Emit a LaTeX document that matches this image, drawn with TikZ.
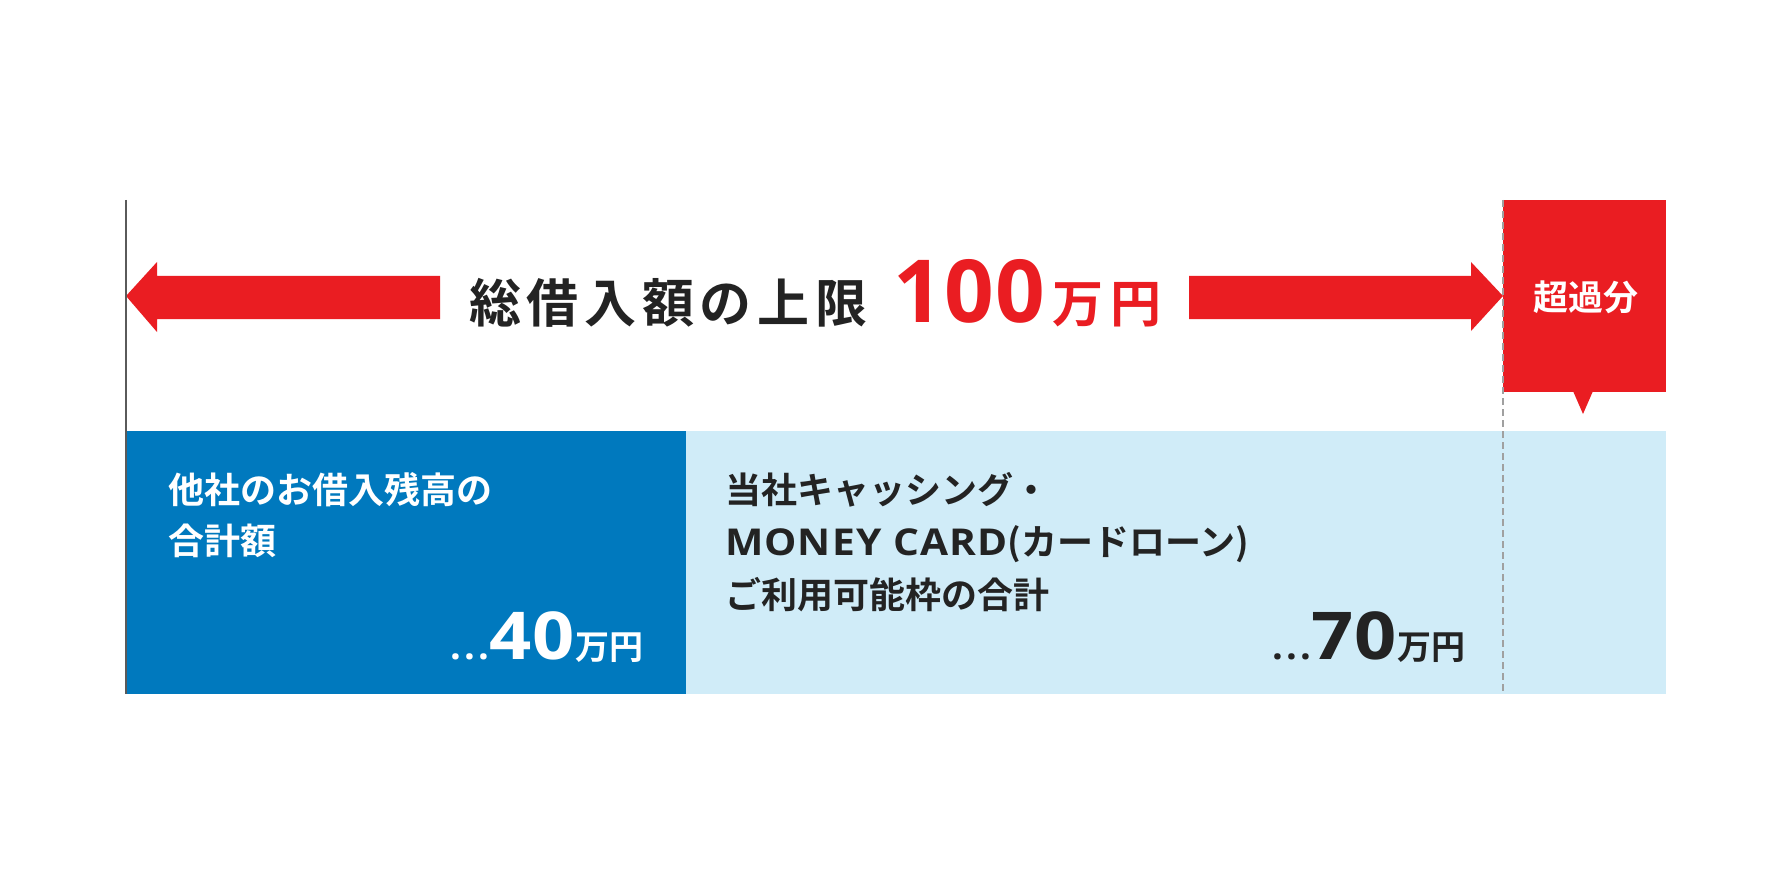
\documentclass[tikz,border=0pt]{standalone}
\usepackage{fontspec}
\setmainfont{Noto Sans CJK JP Bold}
\newfontfamily\latfam{Open Sans}
\newcommand{\lat}{\latfam\bfseries}
\definecolor{ared}{RGB}{234,29,34}
\definecolor{dblue}{RGB}{0,121,190}
\definecolor{lblue}{RGB}{208,236,248}
\definecolor{ink}{RGB}{35,35,35}
\definecolor{lgray}{RGB}{90,90,90}
\definecolor{dgray}{RGB}{160,160,160}
\tikzset{
  txt/.style={inner sep=0pt, outer sep=0pt},
}
\newcommand{\fsz}[1]{\fontsize{#1}{#1}\selectfont}
\newcommand{\amount}[1]{{\lat\fsz{38}\addfontfeature{LetterSpace=8}...}{\lat\fsz{66}\addfontfeature{FakeStretch=1.12,LetterSpace=2}#1}{\fsz{34}万円}}
\begin{document}
\begin{tikzpicture}[x=1pt,y=-1pt]
\useasboundingbox (0,0) rectangle (1792,896);
\fill[white] (0,0) rectangle (1792,896);
% boxes
\fill[dblue] (126,431) rectangle (686,694);
\fill[lblue] (686,431) rectangle (1666,694);
\fill[ared] (1503,200) rectangle (1666,392);
\fill[ared] (1573,391) -- (1593,391) -- (1583,414) -- cycle;
% arrows
\fill[ared] (440,276) -- (157,276) -- (157,262) -- (126,296) -- (157,332) -- (157,319) -- (440,319) -- cycle;
\fill[ared] (1189,276) -- (1471,276) -- (1471,262) -- (1503,296) -- (1471,331) -- (1471,319) -- (1189,319) -- cycle;
% lines
\draw[lgray, line width=2pt] (126,200) -- (126,694);
\draw[dgray, line width=2pt, dash pattern=on 7pt off 4pt] (1503,200) -- (1503,694);
% title
\node[txt, anchor=base west, text=ink] (title) at (469,322) {\fsz{52}\addfontfeature{LetterSpace=11}総借入額の上限};
\node[txt, anchor=base west, text=ared] (num) at (893,322) {\lat\fsz{87}\addfontfeature{LetterSpace=2}100};
\node[txt, anchor=base west, text=ared] (unit) at (1052,322) {\fsz{51}\addfontfeature{LetterSpace=15}万円};
% over
\node[txt, text=white] (over) at (1586,297) {\fsz{35}超過分};
% left box text
\node[txt, anchor=base west, text=white] (l1) at (168,503.5) {\fsz{36}他社のお借入残高の};
\node[txt, anchor=base west, text=white] (l2) at (168,554.5) {\fsz{36}合計額};
\node[txt, anchor=base east, text=white] (l3) at (643,659) {\amount{40}};
% right box text
\node[txt, anchor=base west, text=ink] (r1) at (725,503.5) {\fsz{36}当社キャッシング・};
\node[txt, anchor=base west, text=ink] (r2) at (725,555) {\fsz{36}{\lat\fsz{37}\addfontfeature{FakeStretch=1.1,LetterSpace=3}MONEY CARD}(カードローン)};
\node[txt, anchor=base west, text=ink] (r3) at (725,608.5) {\fsz{36}ご利用可能枠の合計};
\node[txt, anchor=base east, text=ink] (r4) at (1465,659) {\amount{70}};
\end{tikzpicture}
\end{document}
